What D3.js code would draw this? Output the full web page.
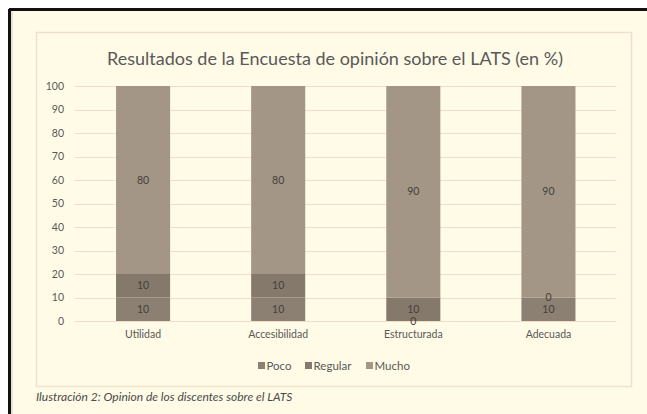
<!DOCTYPE html>
<html><head><meta charset="utf-8">
<script src="https://cdn.jsdelivr.net/npm/d3@7"></script>
<style>
html,body{margin:0;padding:0;background:#fff;}
svg{display:block;}
text{font-family:Lato,"Open Sans",sans-serif;}
</style></head>
<body>
<script>
const categories = ["Utilidad","Accesibilidad","Estructurada","Adecuada"];
const seriesNames = ["Poco","Regular","Mucho"];
const poco = [10,10,0,10];
const regular = [10,10,10,0];
const mucho = [80,80,90,90];
const yTicks = [0,10,20,30,40,50,60,70,80,90,100];
const colors = ["#8c8073","#85796c","#a39686"];
const titleText = "Resultados de la Encuesta de opinión sobre el LATS (en %)";
const captionText = "Ilustración 2: Opinion de los discentes sobre el LATS";

const W = 647, H = 414;
const svg = d3.select("body").append("svg").attr("width", W).attr("height", H);

// page background and frame
svg.append("rect").attr("x",0).attr("y",0).attr("width",W).attr("height",H).attr("fill","#ffffff");
svg.append("rect").attr("x",9).attr("y",9).attr("width",W-9).attr("height",H-9).attr("fill","#fffbe6");
svg.append("line").attr("x1",9).attr("x2",W).attr("y1",9.5).attr("y2",9.5).attr("stroke","#111").attr("stroke-width",3);
svg.append("line").attr("x1",9.5).attr("x2",9.5).attr("y1",9).attr("y2",H).attr("stroke","#111").attr("stroke-width",3);
svg.append("line").attr("x1",12).attr("x2",12).attr("y1",11).attr("y2",H).attr("stroke","#cfcabb").attr("stroke-width",1);

// chart area border
svg.append("rect").attr("x",36.5).attr("y",32.5).attr("width",595).attr("height",354)
  .attr("fill","none").attr("stroke","#efe2cd").attr("stroke-width",1.5);

const x = d3.scaleBand().domain(categories).range([75.5,616]).paddingInner(0.6).paddingOuter(0.3);
const y = d3.scaleLinear().domain([0,100]).range([321,86]);

// gridlines
svg.append("g").selectAll("line").data(yTicks).join("line")
  .attr("x1",75).attr("x2",616)
  .attr("y1",d=>Math.round(y(d))+0.5).attr("y2",d=>Math.round(y(d))+0.5)
  .attr("stroke","#f3dcc9").attr("stroke-width",1.2);

// y axis labels
const yAxis = d3.axisLeft(y).tickValues(yTicks).tickSize(0).tickPadding(0);
const gy = svg.append("g").attr("transform","translate(64,0)").call(yAxis);
gy.select(".domain").remove();
gy.selectAll("text").attr("font-size",10.5).attr("fill","#595959").attr("font-family","Lato, sans-serif");

// x axis labels
const xAxis = d3.axisBottom(x).tickSize(0).tickPadding(0);
const gx = svg.append("g").attr("transform","translate(0,331)").call(xAxis);
gx.select(".domain").remove();
gx.selectAll("text").attr("font-size",10.5).attr("fill","#595959").attr("font-family","Lato, sans-serif");

// stack
const rows = categories.map((c,i)=>({cat:c, Poco:poco[i], Regular:regular[i], Mucho:mucho[i]}));
const stacked = d3.stack().keys(seriesNames)(rows);
const gb = svg.append("g");
stacked.forEach((s,si)=>{
  gb.append("g").attr("fill",colors[si]).selectAll("rect").data(s).join("rect")
    .attr("x",d=>x(d.data.cat)).attr("width",x.bandwidth())
    .attr("y",d=>y(d[1])).attr("height",d=>y(d[0])-y(d[1]));
});
// labels
stacked.forEach((s,si)=>{
  gb.append("g").selectAll("text").data(s).join("text")
    .attr("x",d=>x(d.data.cat)+x.bandwidth()/2)
    .attr("y",d=>y((d[0]+d[1])/2))
    .attr("dy","0.35em").attr("text-anchor","middle")
    .attr("font-size",10.5).attr("fill","#45403a")
    .text(d=>d[1]-d[0]);
});

// title
svg.append("text").attr("x",335).attr("y",65).attr("text-anchor","middle")
  .attr("font-size",18).attr("fill","#595959").text(titleText);

// legend
const legX = [258,305,366];
const lg = svg.append("g");
seriesNames.forEach((n,i)=>{
  lg.append("rect").attr("x",legX[i]).attr("y",362).attr("width",7).attr("height",7).attr("fill",colors[i]);
  lg.append("text").attr("x",legX[i]+8.5).attr("y",369.5).attr("font-size",11.5).attr("fill","#595959").text(n);
});

// caption
svg.append("text").attr("x",36).attr("y",401).attr("font-size",12).attr("font-style","italic")
  .attr("fill","#4a4a4a").text(captionText);
</script>
</body></html>
